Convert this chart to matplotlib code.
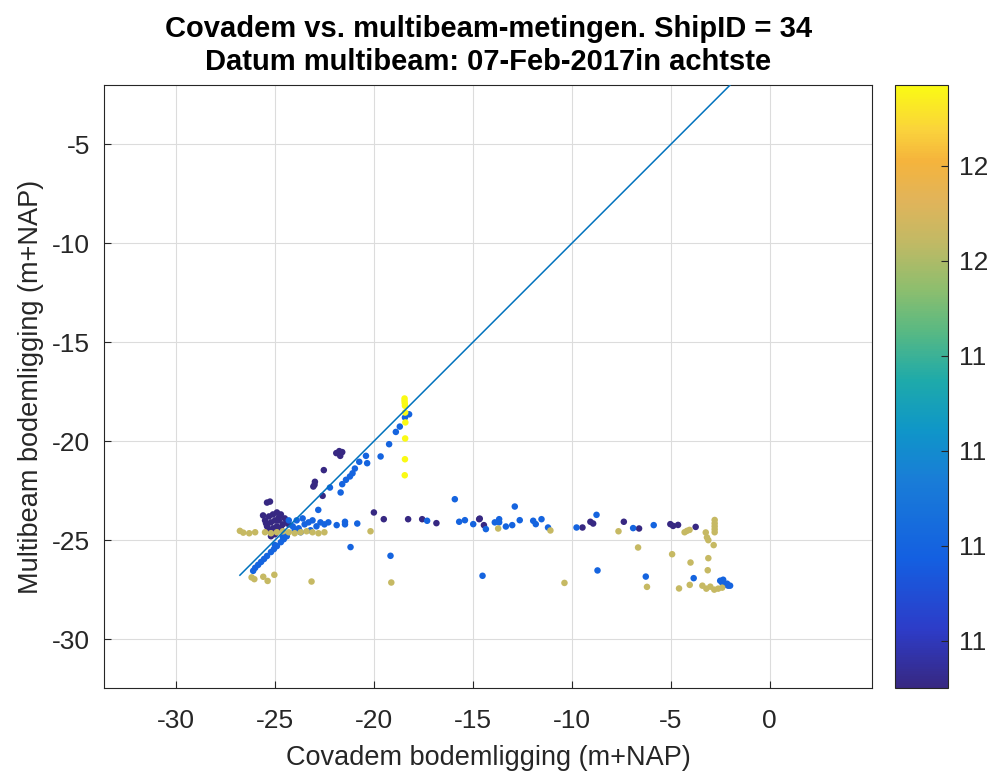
import numpy as np
import matplotlib
matplotlib.use('Agg')
import matplotlib.pyplot as plt
from matplotlib.colors import LinearSegmentedColormap
from matplotlib.ticker import FormatStrFormatter

# Covadem (x) vs multibeam (y) depths, grouped by colour level
purple_x = [-25.4, -25.25, -25.5, -25.3, -25.1, -24.9, -24.7, -24.5, -24.4, -25.4,
            -25.2, -25.0, -24.8, -24.6, -25.3, -25.1, -24.9, -24.7, -25.2, -25.0,
            -24.8, -25.45, -24.95, -25.6, -24.3,
            -21.9, -21.75, -21.6, -21.7, -22.53, -22.98, -23.06, -23.0, -22.59,
            -20.0, -19.5, -18.27, -17.56, -16.84, -14.68, -14.65, -14.44,
            -9.46, -9.06, -8.92, -7.37, -6.6, -5.02, -4.88, -4.63, -3.74]
purple_y = [-23.1, -23.05, -24.0, -23.8, -23.7, -23.6, -23.7, -23.9, -24.1, -24.3,
            -24.1, -24.0, -24.0, -24.2, -24.5, -24.4, -24.3, -24.4, -24.8, -24.7,
            -23.85, -24.15, -24.55, -23.75, -24.2,
            -20.6, -20.5, -20.55, -20.74, -21.46, -22.05, -22.29, -22.2, -22.76,
            -23.6, -23.94, -23.94, -23.94, -24.14, -23.94, -23.91, -24.24,
            -24.36, -24.07, -24.16, -24.07, -24.41, -24.19, -24.28, -24.23, -24.33]

blue_x = [-24.1, -23.9, -23.8, -23.6, -23.5, -23.3, -23.1, -22.9, -22.7, -22.5,
          -22.3, -23.7, -23.2, -24.3, -24.0,
          -24.4, -24.55, -24.7, -24.9, -25.05, -25.2, -25.4, -25.55, -25.7, -25.85,
          -26.0, -26.1, -24.6, -25.0,
          -22.81, -22.22, -21.68, -21.6, -21.41, -21.21, -21.08, -20.96, -20.74,
          -20.4, -20.34, -19.66, -19.23, -18.89, -18.69, -18.43, -18.22,
          -21.88, -21.46, -21.46, -20.84, -21.18, -19.16, -17.31, -15.91, -15.69,
          -15.4, -14.98, -14.34, -13.89, -13.67, -13.67, -13.33, -13.01, -12.88,
          -12.63, -11.95, -11.82, -11.53, -11.2, -9.76, -8.75, -6.9, -5.86,
          -14.51, -8.7, -6.26, -3.84,
          -2.5, -2.4, -2.3, -2.2, -2.1, -2.0, -2.35, -2.15]
blue_y = [-24.3, -24.0, -24.4, -23.9, -24.2, -24.1, -24.0, -24.3, -24.1, -24.2,
          -24.1, -24.6, -24.5, -24.0, -24.5,
          -24.8, -24.95, -25.1, -25.3, -25.45, -25.6, -25.8, -25.95, -26.1, -26.25,
          -26.4, -26.55, -24.85, -25.25,
          -23.47, -22.34, -22.59, -22.17, -21.95, -21.78, -21.62, -21.38, -21.04,
          -20.74, -21.11, -20.77, -20.15, -19.53, -19.26, -18.8, -18.64,
          -24.24, -24.07, -24.2, -24.16, -25.35, -25.79, -24.02, -22.93, -24.07,
          -23.99, -24.19, -24.44, -24.1, -23.94, -24.1, -24.31, -24.24, -23.3,
          -23.99, -24.02, -24.19, -23.94, -24.36, -24.36, -23.72, -24.39, -24.24,
          -26.8, -26.53, -26.84, -26.92,
          -27.05, -27.15, -27.2, -27.25, -27.3, -27.3, -27.0, -27.2]

khaki_x = [-26.77, -26.6, -26.3, -26.0, -25.5, -25.2, -24.9, -24.6, -24.3, -24.0,
           -23.7, -23.4, -23.1, -22.8, -22.5,
           -26.18, -26.04, -25.59, -25.37, -25.03, -23.15,
           -20.17, -19.12, -13.72, -11.08, -10.37, -7.64,
           -4.18, -4.3, -4.05, -2.78, -2.78, -2.78, -2.78, -2.78, -3.23, -3.17,
           -3.1, -2.83, -6.65, -4.93, -4.0, -3.1, -3.13, -6.2, -4.58, -4.04,
           -3.4, -3.2, -3.0, -2.8, -2.6, -2.4]
khaki_y = [-24.53, -24.62, -24.65, -24.6, -24.6, -24.65, -24.6, -24.55, -24.6, -24.65,
           -24.6, -24.55, -24.6, -24.65, -24.6,
           -26.88, -26.97, -26.85, -27.06, -26.75, -27.09,
           -24.55, -27.14, -24.41, -24.51, -27.16, -24.55,
           -24.53, -24.6, -24.48, -23.98, -24.15, -24.3, -24.45, -24.6, -24.61, -24.86,
           -25.0, -25.25, -25.37, -25.71, -26.13, -25.91, -26.52, -27.36, -27.44, -27.26,
           -27.3, -27.45, -27.35, -27.5, -27.45, -27.4]

yellow_x = [-18.45, -18.45, -18.44, -18.43, -18.42, -18.41, -18.42, -18.43, -18.44]
yellow_y = [-17.84, -17.96, -18.08, -18.21, -18.55, -19.05, -19.86, -20.91, -21.72]

# colour level of each group
levels = {'purple': 10.70, 'blue': 11.00, 'khaki': 11.65, 'yellow': 11.97}

covadem = np.array(purple_x + blue_x + khaki_x + yellow_x)
multibeam = np.array(purple_y + blue_y + khaki_y + yellow_y)
kleur = np.concatenate([np.full(len(purple_x), levels['purple']),
                        np.full(len(blue_x), levels['blue']),
                        np.full(len(khaki_x), levels['khaki']),
                        np.full(len(yellow_x), levels['yellow'])])

# parula-like map
anchors = [(0.000, (55, 40, 130)), (0.096, (45, 60, 200)), (0.212, (20, 95, 225)),
           (0.345, (25, 125, 215)), (0.428, (15, 150, 200)), (0.510, (30, 170, 170)),
           (0.594, (90, 185, 130)), (0.660, (140, 190, 110)), (0.743, (195, 185, 100)),
           (0.810, (225, 180, 90)), (0.876, (245, 180, 60)), (0.925, (250, 210, 60)),
           (1.000, (250, 250, 20))]
parula = LinearSegmentedColormap.from_list(
    'parula', [(p, tuple(v / 255 for v in c)) for p, c in anchors])

plt.rcParams['font.family'] = ['Liberation Sans', 'DejaVu Sans']
plt.rcParams['axes.unicode_minus'] = False
grey = '#262626'

fig = plt.figure(figsize=(9.9, 7.78), dpi=100)
ax = fig.add_axes([0.105, 0.1157, 0.776, 0.775])
cax = fig.add_axes([0.904, 0.1157, 0.0535, 0.775])

sc = ax.scatter(covadem, multibeam, c=kleur, cmap=parula, s=22, linewidths=0, zorder=3)
lijn = [covadem.min(), covadem.max()]
ax.plot(lijn, lijn, color=(0, 0.447, 0.741), lw=1.1, zorder=4)

ax.set_xlim(-33.64, 5.18)
ax.set_ylim(-32.47, -2.0)
ax.set_xticks(np.arange(-30, 1, 5))
ax.set_yticks(np.arange(-30, -4, 5))
ax.grid(True, color='#dcdcdc', lw=0.8)
ax.set_axisbelow(True)
ax.tick_params(direction='in', labelsize=19, colors=grey, length=5)
ax.tick_params(axis='x', pad=15)
ax.tick_params(axis='y', pad=10)
for s in ax.spines.values():
    s.set_color(grey)
    s.set_linewidth(0.8)

ax.set_xlabel('Covadem bodemligging (m+NAP)', fontsize=19.5, color=grey, labelpad=9)
ax.set_ylabel('Multibeam bodemligging (m+NAP)', fontsize=19.5, color=grey, labelpad=6)
ax.set_title('Covadem vs. multibeam-metingen. ShipID = 34\nDatum multibeam: 07-Feb-2017in achtste',
             fontsize=21, fontweight='bold', color='black', linespacing=1.2, pad=11)

cb = fig.colorbar(sc, cax=cax)
cb.set_ticks([10.8, 11.0, 11.2, 11.4, 11.6, 11.8])
cb.ax.yaxis.set_major_formatter(FormatStrFormatter('%.0f'))
cb.ax.tick_params(direction='in', labelsize=19, colors=grey, length=5, pad=8)
cb.outline.set_edgecolor(grey)
cb.outline.set_linewidth(0.8)

fig.savefig('out.png', dpi=100)
